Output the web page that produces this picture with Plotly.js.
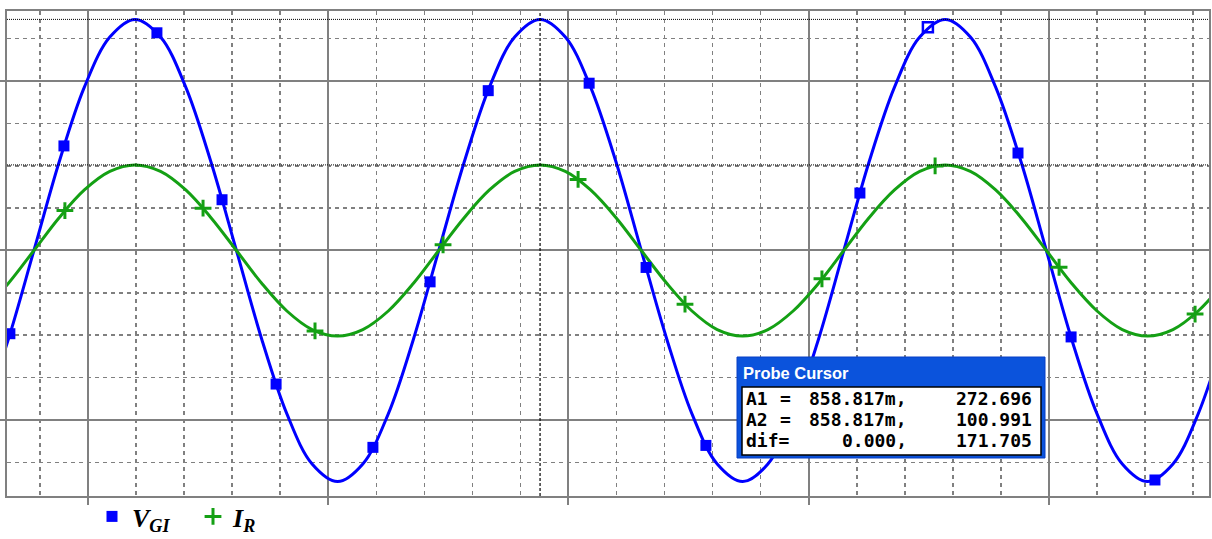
<!DOCTYPE html>
<html>
<head>
<meta charset="utf-8">
<script src="https://cdn.plot.ly/plotly-3.0.1.min.js"></script>
<style>
html,body{margin:0;padding:0;background:#fff;}
#chart{width:1212px;height:539px;}
</style>
</head>
<body>
<div id="chart"></div>
<script>
// ---- data (time in ms) ----
const timeMs = [835.64,836.69,837.75,838.80,839.85,840.91,841.96,843.02,844.07,845.12,846.18,847.23,848.28,849.33,850.39,851.44,852.50,853.55,854.60,855.66,856.71,857.76,858.82,859.87,860.92,861.98,863.03,864.09,865.14,866.19,867.25,868.30,869.35,870.41,871.46,872.51,873.57,874.62,875.68,876.73,877.78,878.84,879.89,880.94,882.00,883.05,884.10,885.16,886.21,887.26];
const vGI = [-192.8,-104.4,0,104.4,192.8,251.9,272.7,251.9,192.8,104.4,0,-104.4,-192.8,-251.9,-272.7,-251.9,-192.8,-104.4,0,104.4,192.8,251.9,272.7,251.9,192.8,104.4,0,-104.4,-192.8,-251.9,-272.7,-251.9,-192.8,-104.4,0,104.4,192.8,251.9,272.7,251.9,192.8,104.4,0,-104.4,-192.8,-251.9,-272.7,-251.9,-192.8,-104.4];
const iR = [-71.4,-38.7,0,38.7,71.4,93.3,101.0,93.3,71.4,38.7,0,-38.7,-71.4,-93.3,-101.0,-93.3,-71.4,-38.7,0,38.7,71.4,93.3,101.0,93.3,71.4,38.7,0,-38.7,-71.4,-93.3,-101.0,-93.3,-71.4,-38.7,0,38.7,71.4,93.3,101.0,93.3,71.4,38.7,0,-38.7,-71.4,-93.3,-101.0,-93.3,-71.4,-38.7];

const vMarkT = [836.75,839.00,842.87,845.58,847.83,851.86,854.24,856.66,860.86,863.23,865.72,872.13,878.71,880.92,884.41];
const vMarkV = [-98.2,123.4,256.9,59.9,-157.6,-232.3,-37.0,188.6,197.4,-20.0,-230.0,67.8,115.0,-102.0,-270.8];
const vOpenT = [874.96];
const vOpenV = [263.3];
const iMarkT = [839.04,844.79,849.45,854.78,860.40,864.85,870.55,875.26,880.42,886.08];
const iMarkV = [47.1,49.9,-94.9,6.7,83.9,-63.4,-33.4,99.8,-19.8,-75.0];

const cursorT = 858.817;
const cursorA1 = 272.696;
const cursorA2 = 100.991;
const probeLabels = ["A1", "A2", "dif="];
const probeX = ["858.817m,", "858.817m,", "0.000,"];
const probeY = ["272.696", "100.991", "171.705"];
const seriesNames = ['<b><i>V</i></b><sub><b><i>GI</i></b></sub>', '<b><i>I</i></b><sub><b><i>R</i></b></sub>'];

// ---- layout helpers (pixel -> paper) ----
const W = 1212, H = 539, mL = 7, mR = 3, mT = 11, mB = 43;
const pw = W - mL - mR, ph = H - mT - mB;
const px = v => (v - mL) / pw;
const py = v => (H - mB - v) / ph;

const BLUE = '#0000ff', GREEN = '#14a014', GRID = '#808080';

const traces = [
  {x: timeMs, y: vGI, mode: 'lines', line: {color: BLUE, width: 3, shape: 'spline'}, showlegend: false, hoverinfo: 'skip'},
  {x: timeMs, y: iR, mode: 'lines', line: {color: GREEN, width: 3, shape: 'spline'}, showlegend: false, hoverinfo: 'skip'},
  {x: vMarkT, y: vMarkV, mode: 'markers', name: seriesNames[0], marker: {symbol: 'square', size: 11, color: BLUE}},
  {x: vOpenT, y: vOpenV, mode: 'markers', showlegend: false, marker: {symbol: 'square-open', size: 10, color: BLUE, line: {color: BLUE, width: 2.5}}},
  {x: iMarkT, y: iMarkV, mode: 'markers', name: seriesNames[1], marker: {symbol: 'cross-thin', size: 12, color: GREEN, line: {color: GREEN, width: 3}}}
];

const shapes = [
  {type: 'line', xref: 'x', yref: 'paper', x0: cursorT, x1: cursorT, y0: 0, y1: 1, line: {color: '#000', width: 1.2, dash: '3px,2px'}},
  {type: 'line', xref: 'paper', yref: 'y', x0: 0, x1: 1, y0: cursorA1, y1: cursorA1, line: {color: '#000', width: 1, dash: '1px,1px'}},
  {type: 'line', xref: 'paper', yref: 'y', x0: 0, x1: 1, y0: cursorA2, y1: cursorA2, line: {color: '#000', width: 1, dash: '1px,1px'}},
  // probe cursor window
  {type: 'rect', xref: 'paper', yref: 'paper', x0: px(737), x1: px(1045), y0: py(458), y1: py(357), fillcolor: '#0b53dc', line: {color: '#083fc4', width: 1}, layer: 'above'},
  {type: 'rect', xref: 'paper', yref: 'paper', x0: px(742), x1: px(1041), y0: py(455), y1: py(387), fillcolor: '#ffffff', line: {color: '#000000', width: 1.5}, layer: 'above'}
];

const annotations = [
  {xref: 'paper', yref: 'paper', x: px(741), y: py(373), xanchor: 'left', yanchor: 'middle', showarrow: false, text: '<b>Probe Cursor</b>', font: {family: 'Liberation Sans, Arial, sans-serif', size: 16.5, color: '#ffffff'}}
];
const rowY = [398, 419, 440];
const mono = {family: 'DejaVu Sans Mono, monospace', size: 18, color: '#000'};
probeLabels.forEach((lab, i) => {
  annotations.push({xref: 'paper', yref: 'paper', x: px(744), y: py(rowY[i]), xanchor: 'left', yanchor: 'middle', showarrow: false, text: '<b>' + lab + '</b>', font: mono});
  if (lab !== 'dif=') {
    annotations.push({xref: 'paper', yref: 'paper', x: px(785), y: py(rowY[i]), xanchor: 'center', yanchor: 'middle', showarrow: false, text: '<b>=</b>', font: mono});
  }
  annotations.push({xref: 'paper', yref: 'paper', x: px(909), y: py(rowY[i]), xanchor: 'right', yanchor: 'middle', showarrow: false, text: '<b>' + probeX[i] + '</b>', font: mono});
  annotations.push({xref: 'paper', yref: 'paper', x: px(1034), y: py(rowY[i]), xanchor: 'right', yanchor: 'middle', showarrow: false, text: '<b>' + probeY[i] + '</b>', font: mono});
});

const layout = {
  width: W, height: H,
  margin: {l: mL, r: mR, t: mT, b: mB, pad: 0, autoexpand: false},
  paper_bgcolor: '#ffffff', plot_bgcolor: '#ffffff',
  showlegend: true,
  legend: {orientation: 'h', x: px(92), y: py(493), xanchor: 'left', yanchor: 'top',
           entrywidth: 56, entrywidthmode: 'pixels',
           font: {family: 'Liberation Serif, Times New Roman, serif', size: 26, color: '#000'},
           bgcolor: 'rgba(0,0,0,0)', borderwidth: 0, itemclick: false},
  xaxis: {range: [836.63, 886.66], showticklabels: false, tick0: 840, dtick: 10,
          ticks: 'outside', ticklen: 7, tickwidth: 2, tickcolor: GRID,
          showgrid: true, gridcolor: GRID, gridwidth: 2, zeroline: false,
          showline: true, linecolor: GRID, linewidth: 2, mirror: true,
          minor: {dtick: 2, tick0: 840, showgrid: true, gridcolor: GRID, gridwidth: 1.5, griddash: '4px,4px', ticks: ''}},
  yaxis: {range: [-289.7, 282.6], showticklabels: false, tick0: 0, dtick: 200,
          ticks: 'outside', ticklen: 6, tickwidth: 2, tickcolor: GRID,
          showgrid: true, gridcolor: GRID, gridwidth: 2, zeroline: false,
          showline: true, linecolor: GRID, linewidth: 2, mirror: true,
          minor: {dtick: 50, tick0: 0, showgrid: true, gridcolor: GRID, gridwidth: 1.5, griddash: '4px,4px', ticks: ''}},
  shapes: shapes,
  annotations: annotations
};

Plotly.newPlot('chart', traces, layout, {staticPlot: true, displayModeBar: false});
</script>
</body>
</html>
